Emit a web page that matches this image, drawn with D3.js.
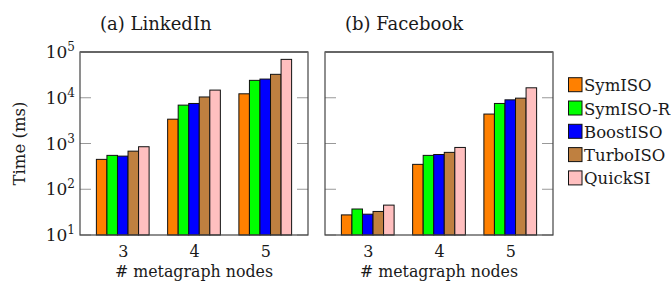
<!DOCTYPE html>
<html>
<head>
<meta charset="utf-8">
<script src="https://cdn.jsdelivr.net/npm/d3@7"></script>
<style>
  html, body { margin: 0; padding: 0; background: #fff; }
  svg { display: block; }
  text { font-family: "DejaVu Serif", serif; fill: #1a1a1a; }
</style>
</head>
<body>
<svg id="chart" width="671" height="284"></svg>
<script>
// ---- data ----
const categories = [3, 4, 5];
const seriesNames = ["SymISO", "SymISO-R", "BoostISO", "TurboISO", "QuickSI"];
const seriesColors = ["#ff8000", "#00ff00", "#0000ff", "#bf8040", "#ffbfbf"];
const yTickValues = [10, 100, 1000, 10000, 100000];
const panelTitles = ["(a) LinkedIn", "(b) Facebook"];
// values per series, per category (3,4,5) in ms
const linkedinSymISO   = [450, 3400, 12200];
const linkedinSymISOR  = [550, 6900, 24000];
const linkedinBoostISO = [530, 7500, 25600];
const linkedinTurboISO = [680, 10400, 32500];
const linkedinQuickSI  = [850, 14700, 69000];
const facebookSymISO   = [27.5, 350, 4400];
const facebookSymISOR  = [37, 550, 7500];
const facebookBoostISO = [28.5, 575, 9000];
const facebookTurboISO = [32.7, 640, 9800];
const facebookQuickSI  = [45, 820, 16500];

const panels = [
  { title: panelTitles[0], series: [linkedinSymISO, linkedinSymISOR, linkedinBoostISO, linkedinTurboISO, linkedinQuickSI], x0: 80, showY: true },
  { title: panelTitles[1], series: [facebookSymISO, facebookSymISOR, facebookBoostISO, facebookTurboISO, facebookQuickSI], x0: 325, showY: false }
];

const svg = d3.select("#chart");
const pw = 228, plotTop = 52, plotBottom = 235;
const y = d3.scaleLog().domain([10, 1e5]).range([plotBottom, plotTop]);

panels.forEach(p => {
  const x = d3.scaleLinear().domain([2.4, 5.6]).range([p.x0, p.x0 + pw]);
  const barW = x(2.4 + 0.148) - x(2.4);
  const g = svg.append("g");

  // ticks inside on left and right
  const tickLen = 11;
  yTickValues.forEach(v => {
    g.append("line").attr("x1", p.x0).attr("x2", p.x0 + tickLen)
      .attr("y1", y(v)).attr("y2", y(v)).attr("stroke", "#999").attr("stroke-width", 1);
    g.append("line").attr("x1", p.x0 + pw - tickLen).attr("x2", p.x0 + pw)
      .attr("y1", y(v)).attr("y2", y(v)).attr("stroke", "#999").attr("stroke-width", 1);
  });

  // bars
  p.series.forEach((vals, si) => {
    g.selectAll(null).data(categories.map((c, i) => ({ c, v: vals[i] })))
      .enter().append("rect")
      .attr("x", d => x(d.c) + (si - 2.5) * barW)
      .attr("width", barW)
      .attr("y", d => y(d.v))
      .attr("height", d => y(10) - y(d.v))
      .attr("fill", seriesColors[si])
      .attr("stroke", "#111")
      .attr("stroke-width", 1);
  });

  // frame
  g.append("rect").attr("x", p.x0).attr("y", plotTop).attr("width", pw).attr("height", plotBottom - plotTop)
    .attr("fill", "none").attr("stroke", "#444").attr("stroke-width", 1.2);
  g.append("line").attr("x1", p.x0).attr("x2", p.x0 + pw).attr("y1", plotTop).attr("y2", plotTop)
    .attr("stroke", "#666").attr("stroke-width", 2);

  // x tick labels
  const xAxis = d3.axisBottom(x).tickValues(categories).tickSize(0).tickPadding(0).tickFormat(d3.format("d"));
  const xa = g.append("g").attr("transform", `translate(0,${plotBottom})`).call(xAxis);
  xa.select(".domain").remove();
  xa.selectAll("text").attr("dy", null).attr("y", 22).style("font-size", "16px")
    .style("font-family", '"DejaVu Serif", serif').attr("fill", "#1a1a1a");

  // x label
  g.append("text").attr("x", p.x0 + pw / 2).attr("y", 277).attr("text-anchor", "middle")
    .style("font-size", "15.8px").text("# metagraph nodes");

  // title
  g.append("text").attr("x", p.x0 + 20).attr("y", 30).style("font-size", "18px").text(p.title);

  if (p.showY) {
    yTickValues.forEach(v => {
      const t = g.append("text").attr("x", 75).attr("y", y(v) + 6).attr("text-anchor", "end")
        .style("font-size", "17px");
      t.append("tspan").text("10");
      t.append("tspan").attr("dy", -7).style("font-size", "12px").text(Math.round(Math.log10(v)));
    });
    g.append("text").attr("transform", `translate(25,${(plotTop + plotBottom) / 2}) rotate(-90)`)
      .attr("text-anchor", "middle").style("font-size", "16.5px").text("Time (ms)");
  }
});

// legend
const lg = svg.append("g");
seriesNames.forEach((n, i) => {
  const yy = 77.7 + i * 23.3;
  lg.append("rect").attr("x", 568.5).attr("y", yy).attr("width", 13.5).attr("height", 14)
    .attr("fill", seriesColors[i]).attr("stroke", "#111").attr("stroke-width", 1);
  lg.append("text").attr("x", 584).attr("y", yy + 13.5).style("font-size", "16.5px").text(n);
});
</script>
</body>
</html>
